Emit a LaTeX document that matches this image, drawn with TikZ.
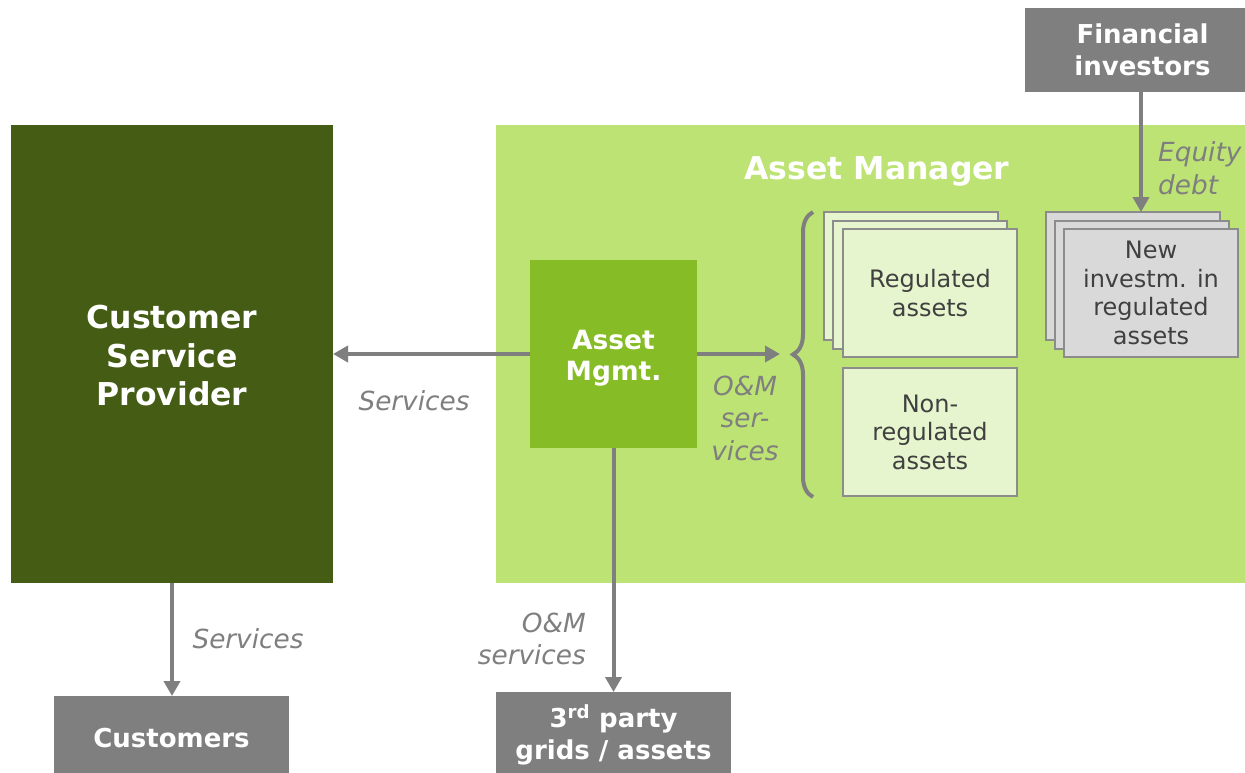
\documentclass[tikz,border=0pt]{standalone}
\usepackage{fontspec}
\setmainfont{DejaVu Sans}
\usetikzlibrary{arrows.meta,decorations.pathreplacing}
\definecolor{dkgreen}{HTML}{445C13}
\definecolor{ltgreen}{HTML}{BDE374}
\definecolor{midgreen}{HTML}{86BC25}
\definecolor{palegreen}{HTML}{E6F5CD}
\definecolor{midgray}{HTML}{7F7F7F}
\definecolor{edgegray}{HTML}{8C8C8C}
\definecolor{boxgray}{HTML}{D9D9D9}
\definecolor{textgray}{HTML}{404040}
\begin{document}
\begin{tikzpicture}[x=1pt,y=-1pt,
  box/.style={inner sep=0pt, outer sep=0pt, align=center},
  darkbox/.style={box, fill=midgray, text=white, minimum width=235pt, font=\bfseries\fontsize{26}{32}\selectfont},
  stackbox/.style={box, draw=edgegray, line width=2pt, text=textgray, minimum width=174pt, minimum height=128pt, font=\fontsize{24}{28.5}\selectfont},
  regbox/.style={stackbox, fill=palegreen},
  invbox/.style={stackbox, fill=boxgray},
  conn/.style={draw=midgray, line width=4pt, -{Triangle[length=15pt,width=16pt]}},
  lbl/.style={text=midgray, font=\itshape\fontsize{26.3}{32.5}\selectfont, inner sep=0pt}
]
\useasboundingbox (0,0) rectangle (1245,772);
\fill[white] (0,0) rectangle (1245,772);

% main areas
\node[box, fill=ltgreen, minimum width=749pt, minimum height=458pt] (amarea) at (870.5,354) {};
\node[box, fill=dkgreen, minimum width=322pt, minimum height=458pt] (csp) at (172,354) {};
\node[box, text=white, font=\bfseries\fontsize{31.5}{38.5}\selectfont] (csptext) at (172,356) {Customer\\Service\\Provider};
\node[box, text=white, font=\bfseries\fontsize{31.5}{36}\selectfont] (amtitle) at (877,171) {Asset Manager};

% asset mgmt
\node[box, fill=midgreen, minimum width=167pt, minimum height=188pt] (amg) at (613.5,354) {};
\node[box, text=white, font=\bfseries\fontsize{26.5}{31}\selectfont] (amgtext) at (613.5,358) {Asset\\Mgmt.};

% regulated asset stack
\node[regbox] (rega) at (910.5,276) {};
\node[regbox] (regb) at (920,284.5) {};
\node[regbox] (reg) at (930,293) {Regulated\\assets};
\node[regbox] (nonreg) at (930,432) {Non-\\regulated\\assets};

% new investment stack
\node[invbox] (inva) at (1133,276) {};
\node[invbox] (invb) at (1142,284.5) {};
\node[invbox] (inv) at (1151,293) {New\\investm. in\\regulated\\assets};

% outside boxes
\node[darkbox, minimum height=84pt] (fin) at (1142.5,50) {Financial\\investors};
\node[darkbox, minimum height=86pt] (third) at (613.5,735) {3\textsuperscript{rd} party\\grids / assets};
\node[darkbox, minimum height=84pt] (cust) at (171.5,738) {Customers};

% brace
\draw[midgray, line width=4pt, decorate, decoration={brace, amplitude=20pt}] (813,497) -- (813,212);

% connectors
\coordinate (omend) at (780,354);
\draw[conn] (amg.west) -- (csp.east);
\draw[conn] (amg.east) -- (omend);
\draw[conn] (amg.south) -- (third.north);
\draw[conn] (csp.south) -- (csp.south |- cust.north);
\draw[conn] (fin.south -| 1141,0) -- (1141,212);

% labels
\node[lbl] (l1) at (414,401) {Services};
\node[lbl] (l2) at (248,639) {Services};
\node[lbl, anchor=east, align=right] (l3) at (586,639) {O\&M\\services};
\node[lbl, align=center] (l4) at (745,418) {O\&M\\ser-\\vices};
\node[lbl, anchor=west, align=left] (l5) at (1158,168) {Equity\\debt};
\end{tikzpicture}
\end{document}
